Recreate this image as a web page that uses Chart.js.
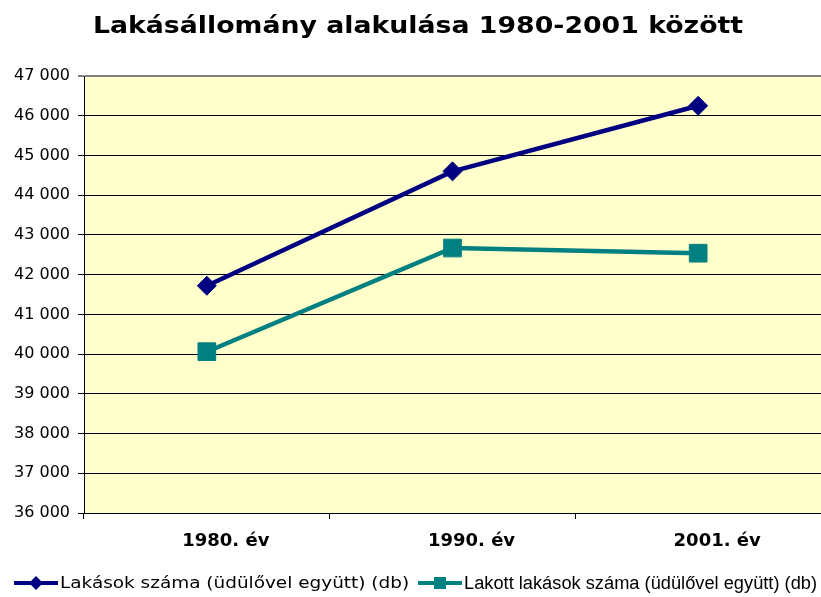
<!DOCTYPE html>
<html><head><meta charset="utf-8">
<script src="https://cdn.jsdelivr.net/npm/chart.js@4/dist/chart.umd.min.js"></script>
<style>html,body{margin:0;padding:0;background:#fff;overflow:hidden}</style>
</head><body>
<canvas id="c" width="821" height="597" style="width:821px;height:597px;display:block"></canvas>
<script>
const chartTitle = 'Lakásállomány alakulása 1980-2001 között';
const categories = ['1980. év', '1990. év', '2001. év'];
const seriesNames = ['Lakások száma (üdülővel együtt) (db)', 'Lakott lakások száma (üdülővel együtt) (db)'];
const lakasokSzama = [41720, 44600, 46250];
const lakottLakasok = [40060, 42670, 42540];
const yMin = 36000, yMax = 47000, yStep = 1000;

const fmt = v => String(v).replace(/\B(?=(\d{3})+(?!\d))/g, ' ');

const bgPlugin = {
  id: 'bg',
  beforeDraw(chart) {
    const { ctx, chartArea: a } = chart;
    ctx.save();
    ctx.fillStyle = '#FFFFCC';
    ctx.fillRect(a.left, a.top, a.right - a.left, a.bottom - a.top);
    ctx.restore();
  },
  afterDraw(chart) {
    const ctx = chart.ctx;
    ctx.save();
    // title
    ctx.fillStyle = '#000';
    ctx.font = 'bold 23px "DejaVu Sans"';
    ctx.textAlign = 'center';
    ctx.textBaseline = 'middle';
    ctx.save();
    ctx.translate(418, 27);
    ctx.scale(1.163, 1);
    ctx.fillText(chartTitle, 0, 0);
    ctx.restore();
    // legend
    const items = [
      { x: 14, font: '16px "DejaVu Sans"', sx: 1.152 },
      { x: 418, font: '18px "Liberation Sans"', sx: 1.014 }
    ];
    const y = 583;
    chart.data.datasets.forEach((ds, i) => {
      const it = items[i];
      ctx.strokeStyle = ds.borderColor;
      ctx.lineWidth = 4;
      ctx.beginPath();
      ctx.moveTo(it.x, y);
      ctx.lineTo(it.x + 44, y);
      ctx.stroke();
      ctx.fillStyle = ds.borderColor;
      const cx = it.x + 22;
      if (ds.pointStyle === 'rectRot') {
        ctx.beginPath();
        ctx.moveTo(cx, y - 7); ctx.lineTo(cx + 7, y); ctx.lineTo(cx, y + 7); ctx.lineTo(cx - 7, y);
        ctx.closePath(); ctx.fill();
      } else {
        ctx.fillRect(cx - 6, y - 6, 12, 12);
      }
      ctx.fillStyle = '#000';
      ctx.font = it.font;
      ctx.textAlign = 'left';
      ctx.textBaseline = 'middle';
      ctx.save();
      ctx.translate(it.x + 46, y + 1);
      ctx.scale(it.sx, 1);
      ctx.fillText(ds.label, 0, 0);
      ctx.restore();
    });
    ctx.restore();
  }
};

new Chart(document.getElementById('c'), {
  type: 'line',
  data: {
    labels: categories,
    datasets: [
      {
        label: seriesNames[0], data: lakasokSzama,
        borderColor: '#000080', backgroundColor: '#000080',
        borderWidth: 4.5, pointStyle: 'rectRot', pointRadius: 9.5,
        pointBorderWidth: 1, pointBackgroundColor: '#000080', pointBorderColor: '#000080',
        tension: 0, fill: false
      },
      {
        label: seriesNames[1], data: lakottLakasok,
        borderColor: '#008080', backgroundColor: '#008080',
        borderWidth: 4.5, pointStyle: 'rect', pointRadius: 12.5,
        pointBorderWidth: 1, pointBackgroundColor: '#008080', pointBorderColor: '#008080',
        tension: 0, fill: false
      }
    ]
  },
  options: {
    responsive: false,
    animation: false,
    devicePixelRatio: 1,
    layout: { autoPadding: false, padding: { top: 76, left: 0, right: 0, bottom: 38 } },
    plugins: { legend: { display: false }, title: { display: false }, tooltip: { enabled: false } },
    scales: {
      x: {
        offset: true,
        grid: { offset: true, drawOnChartArea: false, drawTicks: true, tickLength: 6, color: '#000', lineWidth: 1 },
        border: { color: '#000', width: 1 },
        ticks: { color: '#000', font: { family: '"DejaVu Sans"', size: 18, weight: 'bold' }, padding: 12, maxRotation: 0, labelOffset: 19 },
        afterFit(s) { s.height = 46; s.paddingLeft = 0; s.paddingRight = 0; }
      },
      y: {
        min: yMin, max: yMax,
        grid: {
          color: ctx => (ctx.tick && ctx.tick.value === yMax ? '#808080' : '#000'),
          lineWidth: ctx => (ctx.tick && ctx.tick.value === yMax ? 2 : 1),
          tickLength: 6, drawTicks: true
        },
        border: { color: '#000', width: 1 },
        ticks: { stepSize: yStep, color: '#000', font: { family: '"DejaVu Sans"', size: 16 }, padding: 8, callback: v => fmt(v) },
        afterFit(s) { s.width = 84; }
      }
    }
  },
  plugins: [bgPlugin]
});
</script>
</body></html>
